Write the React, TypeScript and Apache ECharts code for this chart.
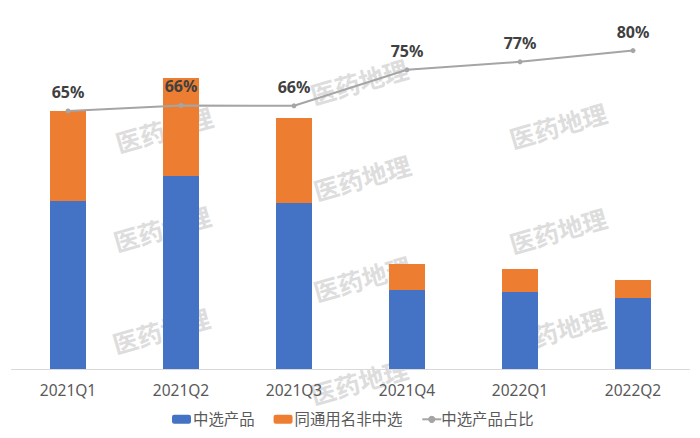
import React, { useEffect, useRef } from 'react';
import * as echarts from 'echarts';

const categories = ['2021Q1', '2021Q2', '2021Q3', '2021Q4', '2022Q1', '2022Q2'];
const selected = [168, 193, 166, 79, 77, 71];
const sameNameNotSelected = [90, 98, 85, 26, 23, 18];
const selectedShare = [64.5, 65.9, 65.8, 74.8, 76.8, 79.6];
const watermarkSpots = [
  [164, 129], [359, 81], [558, 125], [362, 177], [558, 230],
  [162, 228], [362, 278], [161, 330], [557, 330], [359, 381],
];

const App: React.FC = () => {
  const chartRef = useRef<HTMLDivElement>(null);

  useEffect(() => {
    if (!chartRef.current) return;
    const chart = echarts.init(chartRef.current, undefined, { renderer: 'svg' });

    const option: any = {
      animation: false,
      backgroundColor: '#ffffff',
      textStyle: { fontFamily: '"Noto Sans", "Noto Sans CJK SC", sans-serif' },
      graphic: {
        z: -1,
        elements: watermarkSpots.map(([x, y]) => ({
          type: 'text',
          x,
          y,
          rotation: (16 * Math.PI) / 180,
          silent: true,
          style: {
            text: '医药地理',
            font: 'bold 25px "Noto Sans CJK SC"',
            fill: '#dddddd',
            align: 'center',
            verticalAlign: 'middle',
          },
        })),
      },
      legend: {
        bottom: 6,
        left: 167,
        itemWidth: 19,
        itemHeight: 9,
        itemGap: 19,
        textStyle: { color: '#595959', fontSize: 15.4, padding: [0, 0, 0, -3] },
        data: [
          '中选产品',
          '同通用名非中选',
          { name: '中选产品占比', textStyle: { padding: [0, 0, 0, -5] } },
        ],
      },
      grid: { left: 11.5, width: 678, top: 9, height: 360 },
      xAxis: {
        type: 'category',
        data: categories,
        axisTick: { show: false },
        axisLine: { lineStyle: { color: '#d9d9d9', width: 1 } },
        axisLabel: { color: '#595959', fontSize: 15.5, margin: 13 },
      },
      yAxis: [
        { type: 'value', min: 0, max: 360, show: false },
        { type: 'value', min: 0, max: 90, show: false },
      ],
      series: [
        {
          name: '中选产品',
          type: 'bar',
          stack: 'total',
          barWidth: 36,
          itemStyle: { color: '#4472c4' },
          data: selected,
        },
        {
          name: '同通用名非中选',
          type: 'bar',
          stack: 'total',
          barWidth: 36,
          itemStyle: { color: '#ed7d31' },
          data: sameNameNotSelected,
        },
        {
          name: '中选产品占比',
          type: 'line',
          yAxisIndex: 1,
          symbol: 'circle',
          symbolSize: 5,
          itemStyle: { color: '#a5a5a5' },
          lineStyle: { color: '#a5a5a5', width: 2 },
          label: {
            show: true,
            position: 'top',
            distance: 8.5,
            color: '#404040',
            fontSize: 16,
            fontWeight: 'bold',
            formatter: (p: any) => `${Math.round(p.value)}%`,
          },
          data: selectedShare,
        },
      ],
    };

    chart.setOption(option);

    return () => {
      chart.dispose();
    };
  }, []);

  return (
    <div
      ref={chartRef}
      style={{ position: 'absolute', left: 0, top: 0, width: 700, height: 438 }}
    />
  );
};

export default App;
